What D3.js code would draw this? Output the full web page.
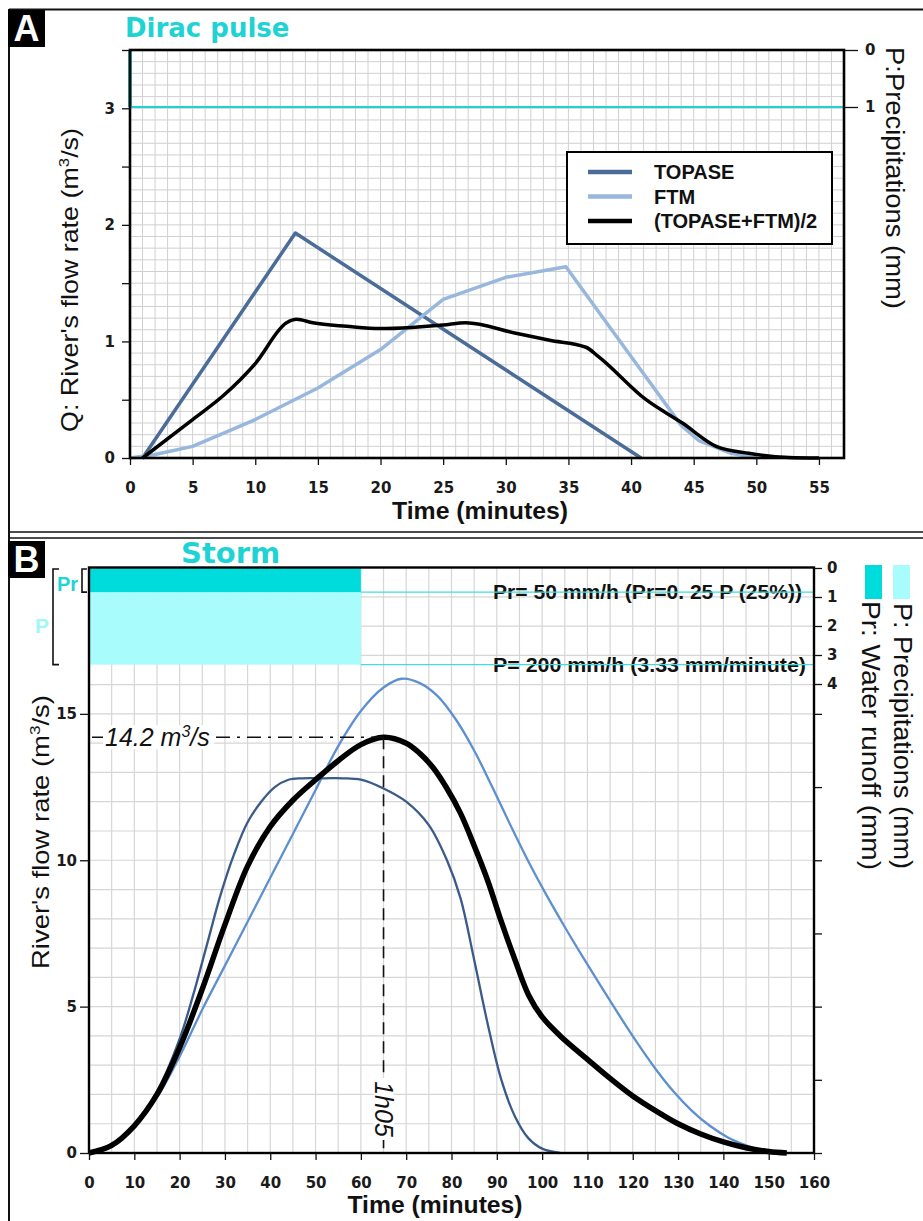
<!DOCTYPE html>
<html><head><meta charset="utf-8">
<script src="https://cdn.jsdelivr.net/npm/d3@7"></script>
<style>body{margin:0;background:#fff} svg{display:block}</style>
</head><body>
<script>
// ---------------- DATA ----------------
// Panel A : Dirac pulse
const aTopaseT = [1, 13.2, 40.8];
const aTopaseQ = [0, 1.93, 0];
const aFtmT = [0, 2, 5, 10, 15, 20, 25, 30, 34.8, 40, 44, 45.4, 48, 50];
const aFtmQ = [0, 0.03, 0.1, 0.33, 0.6, 0.93, 1.36, 1.55, 1.64, 0.87, 0.28, 0.15, 0.04, 0];
const aMeanT = [1, 5, 7.5, 10, 12.5, 13.3, 14.6, 17.3, 20, 22.5, 25, 26.8, 30.8, 33.5, 36.4, 37.4, 41.2, 44.1, 46.8, 49.4, 52.6, 55];
const aMeanQ = [0, 0.33, 0.54, 0.81, 1.16, 1.19, 1.16, 1.13, 1.11, 1.12, 1.14, 1.16, 1.07, 1.01, 0.95, 0.87, 0.5, 0.3, 0.1, 0.04, 0.005, 0];
const aPulseT = [0, 0, 57];
const aPulseP = [0, 1, 1];
const aXTicks = [0, 5, 10, 15, 20, 25, 30, 35, 40, 45, 50, 55];
const aYTicks = [0, 0.5, 1, 1.5, 2, 2.5, 3, 3.5];
const aPTicks = [0, 1];
const legendNames = ["TOPASE", "FTM", "(TOPASE+FTM)/2"];

// Panel B : Storm
const bTopaseT = [0,5,10,15,20,23,26,29,32,35,38,41,44,47,52,56,60,65,70,75,79,82,85,88,91,94,97,100,104];
const bTopaseQ = [0,0.27,0.95,2.1,3.9,5.4,7.1,8.8,10.2,11.3,12.0,12.5,12.75,12.8,12.8,12.8,12.75,12.45,12.0,11.2,10.0,8.7,6.6,4.4,2.5,1.25,0.5,0.15,0];
const bFtmT = [0,5,10,15,20,25,30,35,40,45,50,55,60,65,69,73,77,81,85,89,93,97,101,105,109,113,117,121,125,129,133,137,141,145,150];
const bFtmQ = [0,0.25,0.9,1.9,3.3,4.9,6.4,7.9,9.4,10.9,12.4,13.9,15.1,15.9,16.2,16.05,15.6,14.8,13.75,12.5,11.2,9.95,8.8,7.72,6.69,5.69,4.71,3.76,2.88,2.1,1.45,0.93,0.53,0.26,0];
const bMeanT = [0,5,10,15,20,25,30,35,40,45,50,55,60,65,70,73,76,79,82,85,88,91,94,97,100,104,110,115,120,125,130,135,140,145,150,154];
const bMeanQ = [0,0.26,0.93,2.0,3.6,5.6,7.8,9.8,11.15,12.05,12.75,13.4,13.95,14.2,14.0,13.65,13.15,12.45,11.6,10.5,9.3,7.9,6.6,5.4,4.65,4.0,3.2,2.55,1.95,1.45,1.0,0.65,0.38,0.18,0.05,0];
const stormDuration = 60;      // minutes
const stormP = 3.333;          // mm/minute (200 mm/h)
const stormPr = 0.8333;        // mm/minute (50 mm/h)
const peakT = 65, peakQ = 14.2;
const bXTicks = [0,10,20,30,40,50,60,70,80,90,100,110,120,130,140,150,160];
const bYTicks = [0, 5, 10, 15];
const bYMinor = [0, 2.5, 5, 7.5, 10, 12.5, 15];
const bPTicks = [0, 1, 2, 3, 4];

// ---------------- STYLE ----------------
const cyan = "#1ED3D3", darkCyan = "#00DCDC", lightCyan = "#A8FCFC";
const tickFont = "'DejaVu Sans', Verdana, sans-serif";
const sans = "'Liberation Sans', Arial, sans-serif";
const svg = d3.select("body").append("svg").attr("width", 923).attr("height", 1221);

const zip = (t, q) => t.map((d, i) => [d, q[i]]);

// outer frame
svg.append("line").attr("x1",9).attr("x2",9).attr("y1",9).attr("y2",1221).attr("stroke","#111").attr("stroke-width",2);
svg.append("line").attr("x1",9).attr("x2",923).attr("y1",9.5).attr("y2",9.5).attr("stroke","#111").attr("stroke-width",2);
[532, 538].forEach(y => svg.append("line").attr("x1",9).attr("x2",923).attr("y1",y).attr("y2",y).attr("stroke","#111").attr("stroke-width",1.6));

function styleAxis(g, size) {
  g.selectAll("path.domain").remove();
  g.selectAll("line").attr("stroke", "#111").attr("stroke-width", 1.3);
  g.selectAll("text").attr("font-family", tickFont).attr("font-weight", "bold").attr("font-size", size || 15).attr("fill", "#1a1a1a");
}

function panelLabel(letter, x, y) {
  svg.append("rect").attr("x", x).attr("y", y).attr("width", 37).attr("height", 37).attr("fill", "#000");
  svg.append("text").attr("x", x + 18.5).attr("y", y + 31).attr("text-anchor", "middle")
    .attr("font-family", sans).attr("font-weight", "bold").attr("font-size", 36).attr("fill", "#fff").text(letter);
}

// ================= PANEL A =================
{
  const x = d3.scaleLinear().domain([0, 57]).range([130, 844]);
  const y = d3.scaleLinear().domain([0, 3.5]).range([458, 50]);
  const p = d3.scaleLinear().domain([0, 1]).range([50, 107]);
  const g = svg.append("g");

  // grid
  const grid = g.append("g").attr("stroke", "#d0d0d0").attr("stroke-width", 1);
  d3.range(1, 57).forEach(t => grid.append("line").attr("x1", x(t)).attr("x2", x(t)).attr("y1", y(0)).attr("y2", y(3.5)));
  d3.range(1, 35).forEach(i => grid.append("line").attr("x1", x(0)).attr("x2", x(57)).attr("y1", y(i / 10)).attr("y2", y(i / 10)));

  // dirac pulse (precipitation)
  const pl = d3.line().x(d => x(d[0])).y(d => p(d[1]));
  g.append("path").attr("d", pl(zip(aPulseT.slice(0, 2), aPulseP.slice(0, 2)))).attr("stroke", cyan).attr("stroke-width", 4).attr("fill", "none");
  g.append("path").attr("d", pl(zip(aPulseT.slice(1), aPulseP.slice(1)))).attr("stroke", cyan).attr("stroke-width", 2).attr("fill", "none");

  // curves
  const line = d3.line().x(d => x(d[0])).y(d => y(d[1]));
  const lineM = d3.line().x(d => x(d[0])).y(d => y(d[1])).curve(d3.curveMonotoneX);
  g.append("path").attr("d", line(zip(aTopaseT, aTopaseQ))).attr("stroke", "#4B6B98").attr("stroke-width", 3.5).attr("fill", "none").attr("stroke-linejoin", "round");
  g.append("path").attr("d", line(zip(aFtmT, aFtmQ))).attr("stroke", "#98B7DD").attr("stroke-width", 3.5).attr("fill", "none").attr("stroke-linejoin", "round");
  g.append("path").attr("d", lineM(zip(aMeanT, aMeanQ))).attr("stroke", "#000").attr("stroke-width", 3.5).attr("fill", "none").attr("stroke-linejoin", "round");

  // frame
  g.append("rect").attr("x", x(0)).attr("y", y(3.5)).attr("width", x(57) - x(0)).attr("height", y(0) - y(3.5))
    .attr("fill", "none").attr("stroke", "#000").attr("stroke-width", 2.6);

  // axes
  const ax = g.append("g").attr("transform", `translate(0,${y(0)})`)
    .call(d3.axisBottom(x).tickValues(aXTicks).tickSize(7).tickPadding(17).tickSizeOuter(0));
  styleAxis(ax);
  const ay = g.append("g").attr("transform", `translate(${x(0)},0)`)
    .call(d3.axisLeft(y).tickValues(aYTicks).tickFormat(d => (Number.isInteger(d) ? d : "")).tickSize(8).tickPadding(7).tickSizeOuter(0));
  styleAxis(ay);
  const ap = g.append("g").attr("transform", `translate(${x(57)},0)`)
    .call(d3.axisRight(p).tickValues(aPTicks).tickFormat(d3.format("d")).tickSize(14).tickPadding(7).tickSizeOuter(0));
  styleAxis(ap);

  // legend
  const lg = g.append("g");
  lg.append("rect").attr("x", 567).attr("y", 152).attr("width", 265).attr("height", 92).attr("fill", "#fff").attr("stroke", "#000").attr("stroke-width", 2);
  const lc = ["#4B6B98", "#98B7DD", "#000"];
  legendNames.forEach((n, i) => {
    const yy = 172 + i * 24.5;
    lg.append("line").attr("x1", 588).attr("x2", 632).attr("y1", yy).attr("y2", yy).attr("stroke", lc[i]).attr("stroke-width", 4.5);
    lg.append("text").attr("x", 654).attr("y", yy).attr("dy", "0.36em").attr("font-family", sans).attr("font-weight", "bold")
      .attr("font-size", 20).attr("fill", "#111").text(n);
  });

  // titles
  svg.append("text").attr("x", 125).attr("y", 37).attr("font-family", tickFont).attr("font-weight", "bold")
    .attr("font-size", 26).attr("fill", cyan).text("Dirac pulse");
  svg.append("text").attr("transform", "translate(70,280) rotate(-90)").attr("text-anchor", "middle").attr("dy", "0.35em")
    .attr("font-family", sans).attr("font-size", 24).attr("fill", "#111").attr("textLength", 304).attr("lengthAdjust", "spacingAndGlyphs")
    .html("Q: River's flow rate (m<tspan dy='-9' font-size='15'>3</tspan><tspan dy='9'>/s)</tspan>");
  svg.append("text").attr("transform", "translate(895,47) rotate(90)").attr("text-anchor", "start").attr("dy", "0.35em")
    .attr("font-family", sans).attr("font-size", 25).attr("fill", "#111").attr("textLength", 262).attr("lengthAdjust", "spacingAndGlyphs")
    .text("P:Precipitations (mm)");
  svg.append("text").attr("x", 480).attr("y", 519).attr("text-anchor", "middle").attr("font-family", sans)
    .attr("font-weight", "bold").attr("font-size", 24).attr("fill", "#111").attr("textLength", 176).attr("lengthAdjust", "spacingAndGlyphs")
    .text("Time (minutes)");
  panelLabel("A", 8, 10);
}

// ================= PANEL B =================
{
  const x = d3.scaleLinear().domain([0, 160]).range([89, 814]);
  const y = d3.scaleLinear().domain([0, 20]).range([1153, 567.5]);
  const p = d3.scaleLinear().domain([0, 4]).range([568, 684]);
  const g = svg.append("g");

  // grid
  const grid = g.append("g").attr("stroke", "#d6d6d6").attr("stroke-width", 1.2);
  d3.range(5, 160, 5).forEach(t => grid.append("line").attr("x1", x(t)).attr("x2", x(t)).attr("y1", y(0)).attr("y2", y(20)));
  d3.range(1, 20).forEach(v => grid.append("line").attr("x1", x(0)).attr("x2", x(160)).attr("y1", y(v)).attr("y2", y(v)));

  // rain rectangles
  g.append("rect").attr("x", x(0)).attr("y", p(stormPr)).attr("width", x(stormDuration) - x(0)).attr("height", p(stormP) - p(stormPr)).attr("fill", lightCyan);
  g.append("rect").attr("x", x(0)).attr("y", p(0)).attr("width", x(stormDuration) - x(0)).attr("height", p(stormPr) - p(0)).attr("fill", darkCyan);

  // rain texts + lines
  g.append("text").attr("x", 493).attr("y", p(stormPr)).attr("dy", "0.36em").attr("font-family", sans).attr("font-weight", "bold")
    .attr("font-size", 20).attr("fill", "#111").attr("textLength", 309).attr("lengthAdjust", "spacingAndGlyphs")
    .text("Pr= 50 mm/h (Pr=0. 25 P (25%))");
  g.append("text").attr("x", 493).attr("y", p(stormP)).attr("dy", "0.36em").attr("font-family", sans).attr("font-weight", "bold")
    .attr("font-size", 20).attr("fill", "#111").attr("textLength", 313).attr("lengthAdjust", "spacingAndGlyphs")
    .text("P= 200 mm/h (3.33 mm/minute)");
  [stormPr, stormP].forEach(v => g.append("line").attr("x1", x(stormDuration)).attr("x2", x(160)).attr("y1", p(v)).attr("y2", p(v))
    .attr("stroke", "#3fdede").attr("stroke-width", 1.3));

  // curves
  const lineC = d3.line().x(d => x(d[0])).y(d => y(d[1])).curve(d3.curveCatmullRom.alpha(0.5));
  g.append("path").attr("d", lineC(zip(bFtmT, bFtmQ))).attr("stroke", "#5E8FCF").attr("stroke-width", 2.3).attr("fill", "none");
  g.append("path").attr("d", lineC(zip(bTopaseT, bTopaseQ))).attr("stroke", "#3A5A88").attr("stroke-width", 2.3).attr("fill", "none");
  g.append("path").attr("d", lineC(zip(bMeanT, bMeanQ))).attr("stroke", "#000").attr("stroke-width", 5.5).attr("fill", "none");

  // peak annotation
  g.append("line").attr("x1", x(0) + 3).attr("x2", x(peakT)).attr("y1", y(peakQ)).attr("y2", y(peakQ))
    .attr("stroke", "#111").attr("stroke-width", 1.4).attr("stroke-dasharray", "14,7,3,7");
  g.append("line").attr("x1", x(peakT)).attr("x2", x(peakT)).attr("y1", y(peakQ)).attr("y2", y(0))
    .attr("stroke", "#111").attr("stroke-width", 1.6).attr("stroke-dasharray", "12,7");
  const ann = g.append("g");
  const qt = ann.append("text").attr("x", 105).attr("y", y(peakQ)).attr("dy", "0.36em").attr("font-family", sans).attr("font-style", "italic")
    .attr("font-size", 25).attr("fill", "#111").html("14.2 m<tspan dy='-9' font-size='16'>3</tspan><tspan dy='9'>/s</tspan>");
  const bb = qt.node().getBBox();
  ann.insert("rect", "text").attr("x", bb.x - 2).attr("y", bb.y + 2).attr("width", bb.width + 6).attr("height", bb.height - 4).attr("fill", "#fff");
  ann.append("text").attr("transform", `translate(${x(peakT)},1109) rotate(90)`).attr("text-anchor", "middle").attr("dy", "0.36em")
    .attr("font-family", sans).attr("font-style", "italic").attr("font-size", 25).attr("fill", "#111").text("1h05");
  ann.insert("rect", "text").attr("x", x(peakT) - 10).attr("y", 1078).attr("width", 20).attr("height", 62).attr("fill", "#fff");

  // frame
  g.append("rect").attr("x", x(0)).attr("y", y(20)).attr("width", x(160) - x(0)).attr("height", y(0) - y(20))
    .attr("fill", "none").attr("stroke", "#000").attr("stroke-width", 2.4);

  // axes
  const ax = g.append("g").attr("transform", `translate(0,${y(0)})`)
    .call(d3.axisBottom(x).tickValues(bXTicks).tickSize(7).tickPadding(17).tickSizeOuter(0));
  styleAxis(ax);
  const ay = g.append("g").attr("transform", `translate(${x(0)},0)`)
    .call(d3.axisLeft(y).tickValues(bYTicks).tickSize(9).tickPadding(3).tickSizeOuter(0));
  styleAxis(ay);
  const ar = g.append("g").attr("transform", `translate(${x(160)},0)`)
    .call(d3.axisRight(y).tickValues(bYMinor).tickFormat("").tickSize(8).tickSizeOuter(0));
  styleAxis(ar);
  const ap = g.append("g").attr("transform", `translate(${x(160)},0)`)
    .call(d3.axisRight(p).tickValues(bPTicks).tickFormat(d3.format("d")).tickSize(8).tickPadding(5).tickSizeOuter(0));
  styleAxis(ap);

  // left brackets
  const br = g.append("g").attr("stroke", "#111").attr("stroke-width", 1.6).attr("fill", "none");
  br.append("path").attr("d", `M87,${p(0) + 1}H82V${p(stormPr)}H87`);
  br.append("path").attr("d", `M59,${p(0) + 1}H53V${p(stormP)}H59`);
  g.append("text").attr("x", 57).attr("y", 591).attr("font-family", sans).attr("font-weight", "bold").attr("font-size", 20)
    .attr("fill", "#22D4D4").text("Pr");
  g.append("text").attr("x", 35).attr("y", 633).attr("font-family", sans).attr("font-weight", "bold").attr("font-size", 21)
    .attr("fill", "#A2F6F6").text("P");

  // right legend
  g.append("rect").attr("x", 865).attr("y", 565).attr("width", 17).attr("height", 34).attr("fill", darkCyan);
  g.append("rect").attr("x", 893).attr("y", 565).attr("width", 17).attr("height", 34).attr("fill", lightCyan);
  svg.append("text").attr("transform", "translate(903,603) rotate(90)").attr("dy", "0.35em")
    .attr("font-family", sans).attr("font-size", 25).attr("fill", "#111").attr("textLength", 266).attr("lengthAdjust", "spacingAndGlyphs")
    .text("P: Precipitations (mm)");
  svg.append("text").attr("transform", "translate(871,601) rotate(90)").attr("dy", "0.35em")
    .attr("font-family", sans).attr("font-size", 25).attr("fill", "#111").attr("textLength", 269).attr("lengthAdjust", "spacingAndGlyphs")
    .text("Pr: Water runoff  (mm)");

  // titles
  svg.append("text").attr("x", 181).attr("y", 563).attr("font-family", tickFont).attr("font-weight", "bold")
    .attr("font-size", 29).attr("fill", cyan).text("Storm");
  svg.append("text").attr("transform", "translate(41,832) rotate(-90)").attr("text-anchor", "middle").attr("dy", "0.35em")
    .attr("font-family", sans).attr("font-size", 24).attr("fill", "#111").attr("textLength", 274).attr("lengthAdjust", "spacingAndGlyphs")
    .html("River's flow rate (m<tspan dy='-9' font-size='15'>3</tspan><tspan dy='9'>/s)</tspan>");
  svg.append("text").attr("x", 435).attr("y", 1213).attr("text-anchor", "middle").attr("font-family", sans)
    .attr("font-weight", "bold").attr("font-size", 24).attr("fill", "#111").attr("textLength", 175).attr("lengthAdjust", "spacingAndGlyphs")
    .text("Time (minutes)");
  panelLabel("B", 8, 541);
}
</script>
</body></html>
